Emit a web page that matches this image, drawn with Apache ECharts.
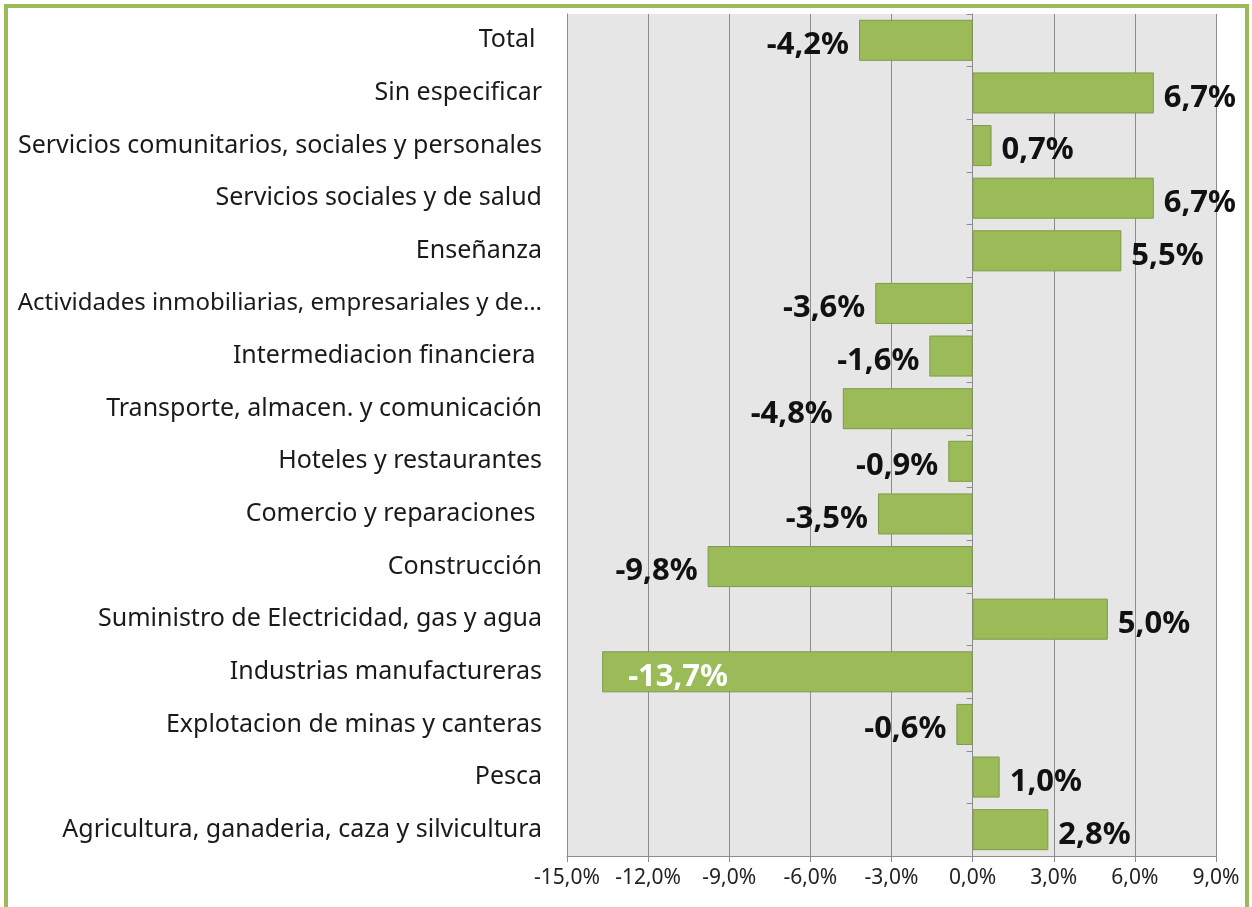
<!DOCTYPE html>
<html><head><meta charset="utf-8">
<script src="https://cdn.jsdelivr.net/npm/echarts@6/dist/echarts.min.js"></script>
<style>
html,body{margin:0;padding:0;background:#fff;width:1252px;height:907px;overflow:hidden;}
#frame{position:absolute;left:4px;top:4px;width:1237px;height:920px;border:4px solid #9bbb59;}
#c{position:absolute;left:0;top:0;width:1252px;height:907px;}
</style></head>
<body><div id="frame"></div><div id="c"></div>
<script>
const categories = [
  "Agricultura, ganaderia, caza y silvicultura",
  "Pesca",
  "Explotacion de minas y canteras",
  "Industrias manufactureras",
  "Suministro de Electricidad, gas y agua",
  "Construcción",
  "Comercio y reparaciones ",
  "Hoteles y restaurantes",
  "Transporte, almacen. y comunicación",
  "Intermediacion financiera ",
  "Actividades inmobiliarias, empresariales y de…",
  "Enseñanza",
  "Servicios sociales y de salud",
  "Servicios comunitarios, sociales y personales",
  "Sin especificar",
  "Total "
];
const values = [2.8, 1.0, -0.6, -13.7, 5.0, -9.8, -3.5, -0.9, -4.8, -1.6, -3.6, 5.5, 6.7, 0.7, 6.7, -4.2];
const xTicks = { min: -15, max: 9, interval: 3 };

const fmt = v => v.toFixed(1).replace('.', ',') + '%';
const labelFont = '"Noto Sans", "Open Sans", sans-serif';

const catData = categories.map(c => c.endsWith('…')
  ? { value: c, textStyle: { fontSize: 24 } }
  : c);

const data = values.map(v => {
  const item = { value: v };
  if (v <= -12) {
    item.label = { position: 'insideLeft', distance: 26, color: '#ffffff' };
  } else if (v < 0) {
    item.label = { position: 'left', distance: 10 };
  } else {
    item.label = { position: 'right', distance: 10 };
  }
  return item;
});

const chart = echarts.init(document.getElementById('c'));
chart.setOption({
  animation: false,
  grid: { left: 567, right: 36, top: 14, bottom: 51, containLabel: false, outerBoundsMode: 'none',
          show: true, backgroundColor: '#e6e6e6', borderWidth: 0 },
  xAxis: {
    type: 'value', min: xTicks.min, max: xTicks.max, interval: xTicks.interval,
    axisLine: { show: true, onZero: false, lineStyle: { color: '#8c8c8c' } },
    axisTick: { show: true, length: 6, lineStyle: { color: '#8c8c8c' } },
    axisLabel: { formatter: v => v.toFixed(1).replace('.', ',') + '%', color: '#222',
                 fontFamily: labelFont, fontSize: 21, margin: 12 },
    splitLine: { show: true, lineStyle: { color: '#8c8c8c', width: 1 } }
  },
  yAxis: [{
    type: 'category', data: catData,
    axisLine: { show: true, onZero: false, lineStyle: { color: '#8c8c8c' } },
    axisTick: { show: false },
    axisLabel: { color: '#1a1a1a', fontFamily: labelFont, fontSize: 25, margin: 25 }
  }, {
    type: 'category', data: categories, position: 'left',
    axisLine: { show: true, onZero: true, lineStyle: { color: '#8c8c8c' } },
    axisTick: { show: true, length: 6, inside: false, lineStyle: { color: '#8c8c8c' } },
    axisLabel: { show: false }
  }],
  series: [{
    type: 'bar', yAxisIndex: 0, data: data, barCategoryGap: '22%',
    itemStyle: { color: '#9bbb59', borderColor: '#7f9a48', borderWidth: 1 },
    label: { show: true, formatter: p => fmt(p.value), fontFamily: labelFont,
             fontWeight: 'bold', fontSize: 31, color: '#111', offset: [0, 5] }
  }]
});
</script></body></html>
